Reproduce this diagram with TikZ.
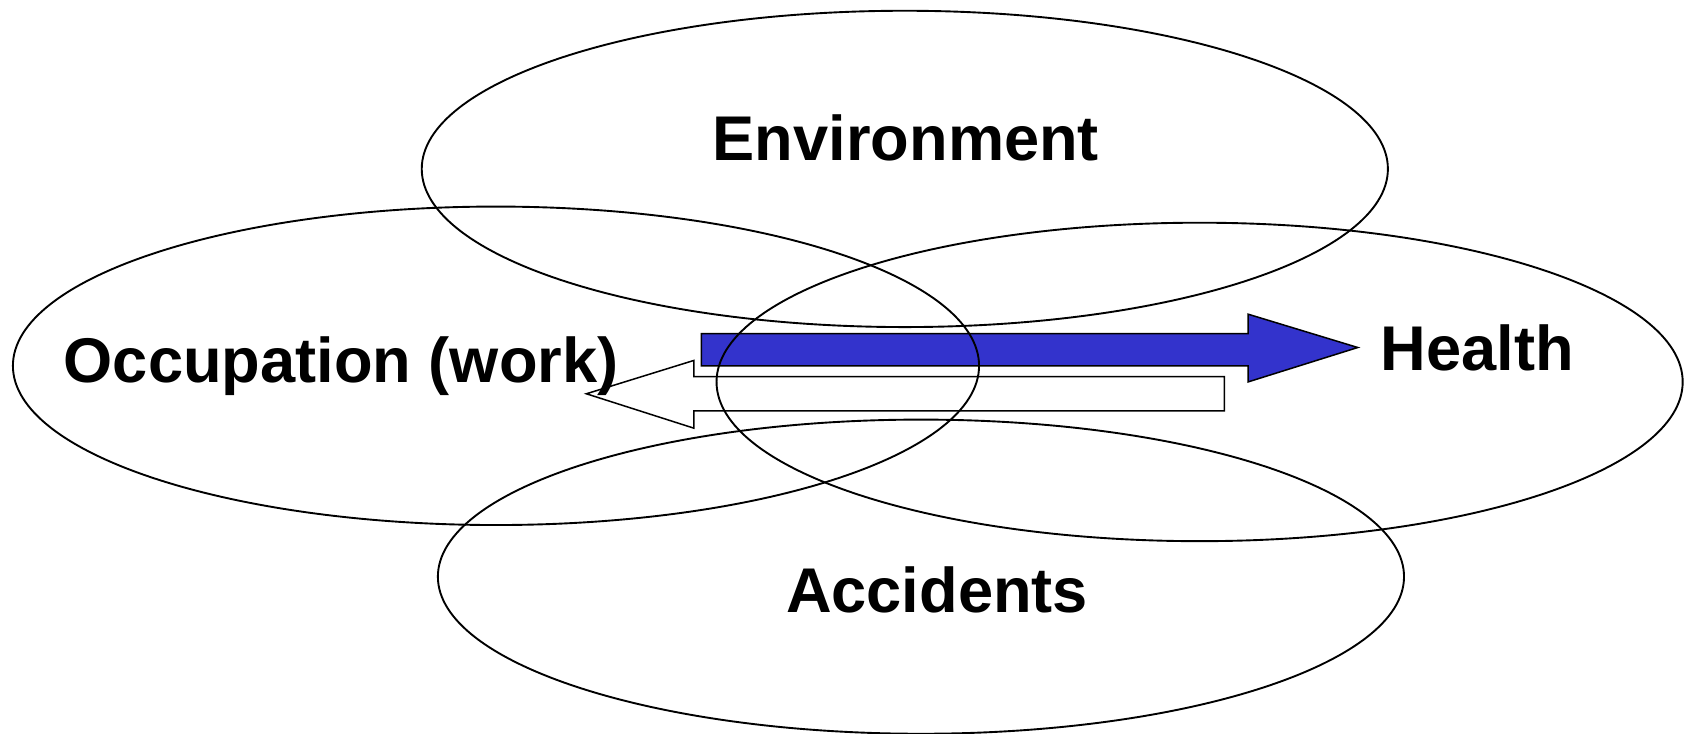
\documentclass[tikz,border=0pt]{standalone}
\usepackage{fontspec}
\setmainfont{Liberation Sans}
\definecolor{arrowblue}{RGB}{51,51,204}
\tikzset{
  venntext/.style={font=\fontsize{16.7}{20}\selectfont\bfseries, inner sep=0pt},
  ring/.style={black, line width=0.5pt},
}
\begin{document}
\begin{tikzpicture}[x=0.01cm, y=-0.01cm]
        \useasboundingbox (0,0) rectangle (1568,682);

        %setas
        \filldraw[fill=arrowblue, draw=black, line width=0.4pt] (652,310) -- (1160,310) -- (1160,292) -- (1262,323) -- (1160,355) -- (1160,340) -- (652,340) -- cycle;
        \filldraw[fill=white, draw=black, line width=0.4pt] (545,366) -- (645,335) -- (645,350) -- (1138,350) -- (1138,382) -- (645,382) -- (645,398) -- cycle;

        %elipses
        \draw[ring] (841,157) ellipse [x radius=449, y radius=147];
        \draw[ring] (461,340) ellipse [x radius=449, y radius=148];
        \draw[ring] (1115,355) ellipse [x radius=449, y radius=148];
        \draw[ring] (856,536) ellipse [x radius=449, y radius=146];

        %textos
        \node[venntext] (env) at (842,128) {Environment};
        \node[venntext] (occ) at (317,340) {Occupation (work)};
        \node[venntext] (health) at (1373,323) {Health};
        \node[venntext] (acc) at (871,548) {Accidents};

    \end{tikzpicture}
\end{document}
